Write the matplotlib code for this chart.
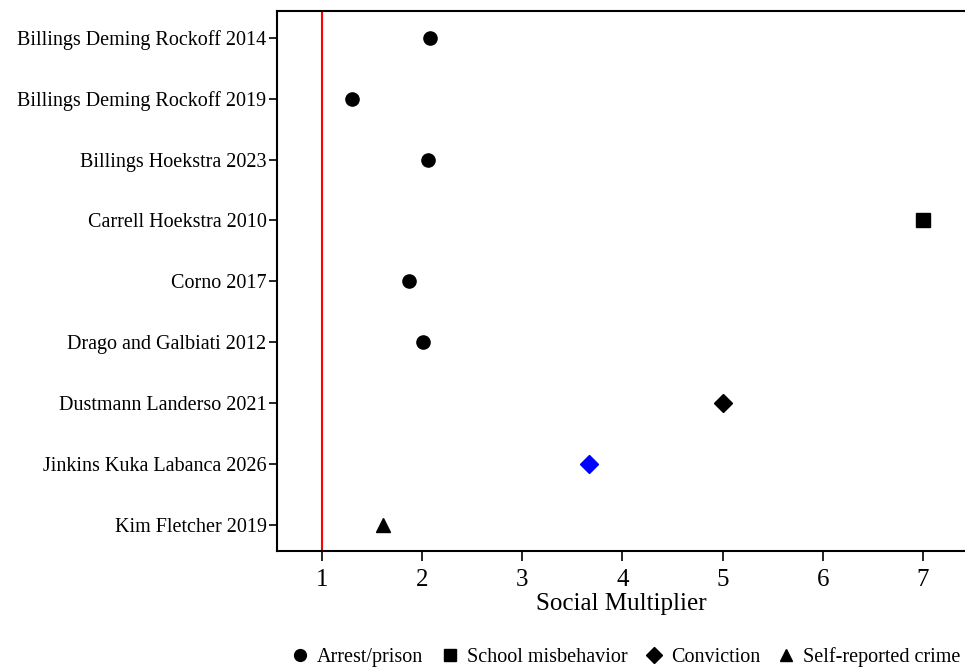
import numpy as np
import matplotlib.pyplot as plt
from matplotlib.lines import Line2D

plt.rcParams['font.family'] = ['Liberation Serif', 'DejaVu Serif']

# estudos, multiplicador estimado e tipo de desfecho
vtStudies = ['Billings Deming Rockoff 2014', 'Billings Deming Rockoff 2019',
             'Billings Hoekstra 2023', 'Carrell Hoekstra 2010', 'Corno 2017',
             'Drago and Galbiati 2012', 'Dustmann Landerso 2021',
             'Jinkins Kuka Labanca 2026', 'Kim Fletcher 2019']
vtMultiplier = [2.08, 1.30, 2.06, 7.00, 1.87, 2.01, 5.00, 3.67, 1.61]
vtOutcome = ['Arrest/prison', 'Arrest/prison', 'Arrest/prison', 'School misbehavior',
             'Arrest/prison', 'Arrest/prison', 'Conviction', 'Conviction',
             'Self-reported crime']
vtHighlight = [False, False, False, False, False, False, False, True, False]

vtOutcomeNames = ['Arrest/prison', 'School misbehavior', 'Conviction', 'Self-reported crime']
dMarkers = {'Arrest/prison': 'o', 'School misbehavior': 's',
            'Conviction': 'D', 'Self-reported crime': '^'}
dSizes = {'o': 9.5, 's': 9.5, 'D': 9, '^': 10}

fig = plt.figure(figsize=(9.65, 6.7), dpi=100)
ax = fig.add_axes([0.287, 0.1776, 0.713, 0.806])

vtY = np.arange(len(vtStudies))
for i in range(len(vtStudies)):
    mk = dMarkers[vtOutcome[i]]
    cor = 'blue' if vtHighlight[i] else 'black'
    ax.plot(vtMultiplier[i], vtY[i], marker=mk, color=cor, markersize=dSizes[mk],
            linestyle='none', zorder=3)

ax.axvline(1, color='red', linewidth=1.5, zorder=2)

ax.set_xlim(0.55, 7.42)
ax.set_ylim(len(vtStudies) - 1 + 0.43, -0.44)
ax.set_yticks(vtY)
ax.set_yticklabels(vtStudies, fontsize=14.5)
ax.set_xticks(range(1, 8))
ax.tick_params(axis='x', labelsize=18, length=7.2, width=1.2, pad=6)
ax.tick_params(axis='y', length=5.5, width=1.2, pad=2)
ax.set_xlabel('Social Multiplier', fontsize=18, labelpad=1)

for s in ['left', 'bottom', 'top']:
    ax.spines[s].set_linewidth(1.5)
ax.spines['right'].set_visible(False)

vtHandles = [Line2D([], [], marker=dMarkers[n], color='black', linestyle='none',
                    markersize=dSizes[dMarkers[n]] - 1) for n in vtOutcomeNames]
fig.legend(vtHandles, vtOutcomeNames, loc='center', bbox_to_anchor=(0.647, 0.02),
           ncol=4, frameon=False, fontsize=14.5, handletextpad=0.25, columnspacing=0.7,
           handlelength=1.2)

fig.savefig('out.png', dpi=100)
